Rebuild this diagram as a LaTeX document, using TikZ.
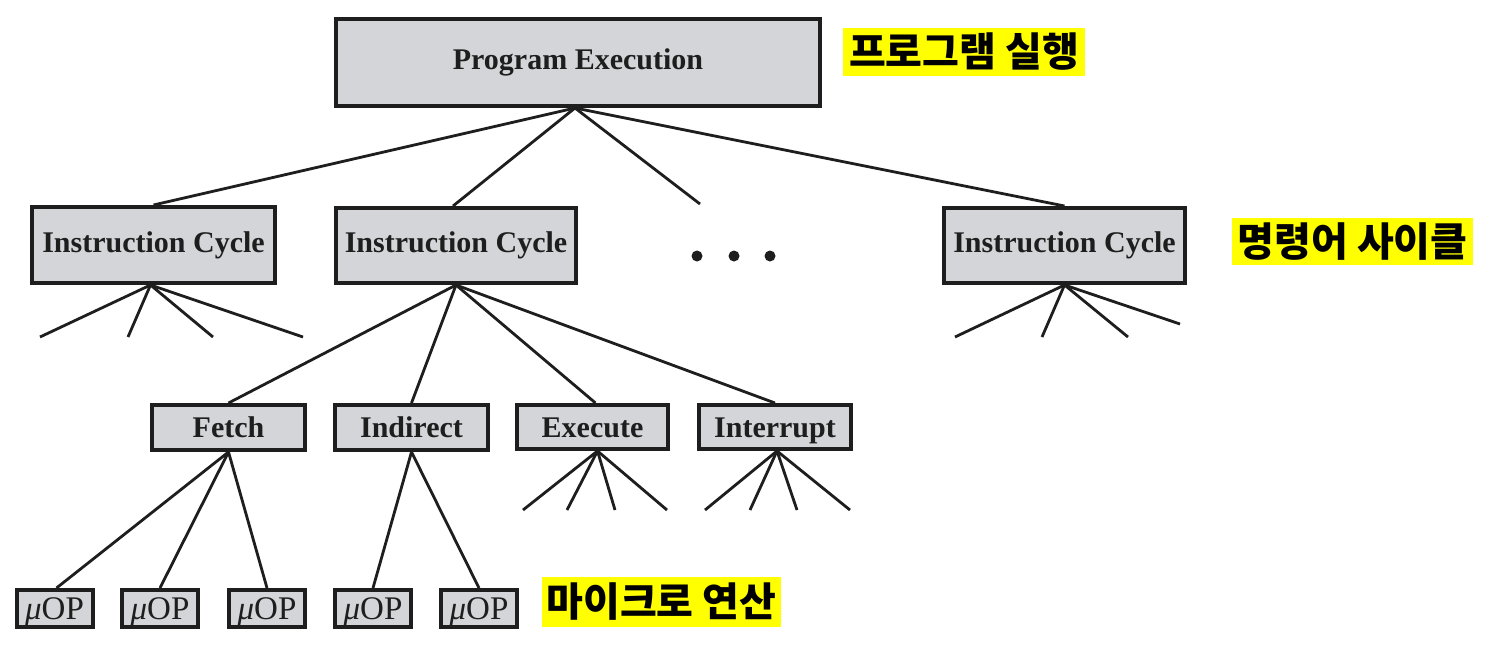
\documentclass[tikz,border=0pt]{standalone}
\usepackage{fontspec}
\setmainfont{Liberation Serif}
\newfontfamily\kr{Noto Sans CJK KR}
\definecolor{boxfill}{RGB}{212,213,216}
\definecolor{ink}{RGB}{30,30,30}
\definecolor{hl}{RGB}{255,255,0}
\begin{document}
\begin{tikzpicture}[x=1pt,y=-1pt,
  box/.style={draw=ink, line width=4pt, fill=boxfill, inner sep=0pt, text=ink,
    font=\fontsize{30}{30}\selectfont\bfseries},
  subbox/.style={box, text height=20pt, text depth=0pt},
  mop/.style={box, font=\fontsize{33}{33}\selectfont, minimum width=76pt, minimum height=37pt, text height=22pt, text depth=0pt},
  conn/.style={draw=ink, line width=2.8pt},
  klabel/.style={fill=hl, inner sep=0pt, text=black, font=\kr\bfseries\fontsize{40}{40}\selectfont},
  dotc/.style={circle, fill=ink, inner sep=0pt, minimum size=11pt}]
\useasboundingbox (0,0) rectangle (1498,651);
\fill[white] (0,0) rectangle (1498,651);

% top
\node[box, minimum width=484pt, minimum height=87pt] (PE) at (578,62.5) {Program Execution};
% level 2
\node[box, minimum width=243pt, minimum height=76pt] (IC1) at (153.5,245) {Instruction Cycle};
\node[box, minimum width=240pt, minimum height=75pt] (IC2) at (456,245.5) {Instruction Cycle};
\node[box, minimum width=241pt, minimum height=75pt] (IC3) at (1064.5,245.5) {Instruction Cycle};
\node[dotc] (d1) at (697,256) {};
\node[dotc] (d2) at (734,256) {};
\node[dotc] (d3) at (770,256) {};
% level 3
\node[subbox, minimum width=153pt, minimum height=45pt] (F) at (228.5,427.5) {Fetch};
\node[subbox, minimum width=153pt, minimum height=45pt] (IN) at (411.5,427.5) {Indirect};
\node[subbox, minimum width=151pt, minimum height=44pt] (EX) at (592.5,427) {Execute};
\node[subbox, minimum width=152pt, minimum height=44pt] (IR) at (775,427) {Interrupt};
% level 4
\node[mop] (m1) at (54.5,608.5) {{\itshape μ}OP};
\node[mop] (m2) at (160,608.5) {{\itshape μ}OP};
\node[mop] (m3) at (267,608.5) {{\itshape μ}OP};
\node[mop] (m4) at (373,608.5) {{\itshape μ}OP};
\node[mop] (m5) at (479,608.5) {{\itshape μ}OP};

% Korean labels
\node[klabel, minimum width=242pt, minimum height=48pt] (k1) at (964,52) {프로그램 실행};
\node[klabel, minimum width=241pt, minimum height=47pt] (k2) at (1352.5,241.5) {명령어 사이클};
\node[klabel, minimum width=239pt, minimum height=50pt] (k3) at (661.5,602) {마이크로 연산};

% free ends
\coordinate (pe4) at (700,204);
\coordinate (a1) at (40,337);
\coordinate (a2) at (128,337);
\coordinate (a3) at (213,337);
\coordinate (a4) at (303,337);
\coordinate (c1) at (955,337);
\coordinate (c2) at (1042,337);
\coordinate (c3) at (1128,337);
\coordinate (c4) at (1180,324);
\coordinate (e1) at (523,510);
\coordinate (e2) at (567,510);
\coordinate (e3) at (615,510);
\coordinate (e4) at (667,510);
\coordinate (r1) at (705,510);
\coordinate (r2) at (750,510);
\coordinate (r3) at (797,510);
\coordinate (r4) at (850,510);

% connectors
\draw[conn] ([xshift=-3pt]PE.south) -- (IC1.north);
\draw[conn] ([xshift=-3pt]PE.south) -- ([xshift=-3pt]IC2.north);
\draw[conn] ([xshift=-3pt]PE.south) -- (pe4);
\draw[conn] ([xshift=-3pt]PE.south) -- (IC3.north);

\draw[conn] ([xshift=-3pt]IC1.south) -- (a1);
\draw[conn] ([xshift=-3pt]IC1.south) -- (a2);
\draw[conn] ([xshift=-3pt]IC1.south) -- (a3);
\draw[conn] ([xshift=-3pt]IC1.south) -- (a4);

\draw[conn] (IC3.south) -- (c1);
\draw[conn] (IC3.south) -- (c2);
\draw[conn] (IC3.south) -- (c3);
\draw[conn] (IC3.south) -- (c4);

\draw[conn] (IC2.south) -- (F.north);
\draw[conn] (IC2.south) -- (IN.north);
\draw[conn] (IC2.south) -- ([xshift=3pt]EX.north);
\draw[conn] (IC2.south) -- (IR.north);

\draw[conn] (F.south) -- ([xshift=2pt]m1.north);
\draw[conn] (F.south) -- (m2.north);
\draw[conn] (F.south) -- (m3.north);
\draw[conn] (IN.south) -- (m4.north);
\draw[conn] (IN.south) -- (m5.north);

\draw[conn] ([xshift=5pt]EX.south) -- (e1);
\draw[conn] ([xshift=5pt]EX.south) -- (e2);
\draw[conn] ([xshift=5pt]EX.south) -- (e3);
\draw[conn] ([xshift=5pt]EX.south) -- (e4);

\draw[conn] ([xshift=2pt]IR.south) -- (r1);
\draw[conn] ([xshift=2pt]IR.south) -- (r2);
\draw[conn] ([xshift=2pt]IR.south) -- (r3);
\draw[conn] ([xshift=2pt]IR.south) -- (r4);
\end{tikzpicture}
\end{document}
